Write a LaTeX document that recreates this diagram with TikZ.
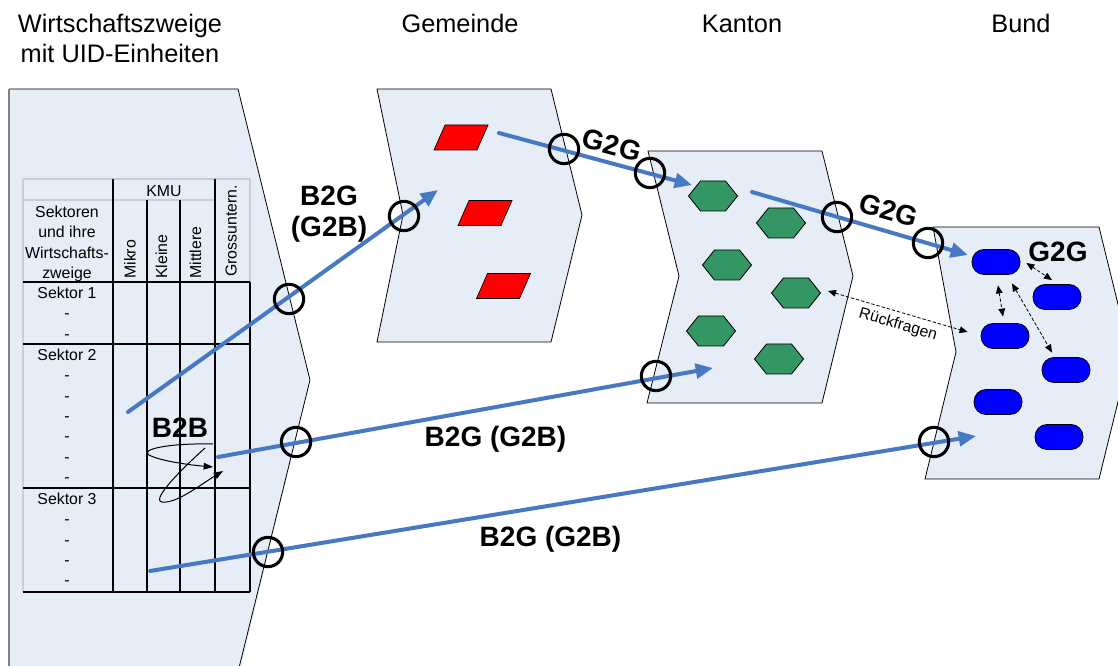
\documentclass[tikz,border=0pt]{standalone}
\usepackage{fontspec}
\setmainfont{Liberation Sans}
\usetikzlibrary{arrows.meta}
\definecolor{panel}{RGB}{230,237,247}
\definecolor{flow}{RGB}{70,120,195}
\definecolor{gridgray}{RGB}{200,206,216}
\definecolor{hexgreen}{RGB}{51,150,100}
\definecolor{redpara}{RGB}{255,0,0}
\definecolor{bundblue}{RGB}{0,0,255}
\tikzset{
  hexcell/.pic={\path[fill=hexgreen,draw=black,line width=0.6pt] (-24.5,0)--(-12.5,-15)--(12.5,-15)--(24.5,0)--(12.5,15)--(-12.5,15)--cycle;},
  paracell/.pic={\path[fill=redpara,draw=black,line width=0.5pt] (-16,-12.5)--(27,-12.5)--(16,12.5)--(-27,12.5)--cycle;}
}
\begin{document}
\begin{tikzpicture}[x=0.75pt,y=-0.75pt,
  panelshape/.style={fill=panel,draw=black,line width=0.6pt},
  flowarrow/.style={draw=flow,line width=3pt,line cap=round,-{Triangle[length=13pt,width=11pt]}},
  ring/.style={circle,draw=black,line width=2.3pt,minimum size=22pt,inner sep=0pt},
  title/.style={font=\fontsize{19}{22.5}\selectfont,align=center,inner sep=0pt},
  tabtext/.style={font=\fontsize{11.9}{15.3}\selectfont,align=center,inner sep=0pt},
  bigbold/.style={font=\fontsize{21}{23.5}\selectfont\bfseries,align=center,inner sep=0pt},
  smalltext/.style={font=\fontsize{11.8}{13}\selectfont,inner sep=0pt},
  thickrule/.style={line width=1.9pt},
  midrule/.style={line width=1.5pt},
  thinrule/.style={line width=0.9pt},
  grayrule/.style={draw=gridgray,line width=1.2pt},
  bundrect/.style={rectangle,rounded corners=9pt,fill=bundblue,draw=black,line width=0.6pt,minimum width=36pt,minimum height=18.75pt,inner sep=0pt},
  dasharrow/.style={dash pattern=on 2.5pt off 1.5pt,line width=0.6pt,{Triangle[length=6pt,width=5pt]}-{Triangle[length=6pt,width=5pt]}},
  loopline/.style={line width=0.75pt,-{Triangle[length=7pt,width=5pt]}}
]
\useasboundingbox (0,0) rectangle (1118,666);
\begin{scope}
\clip (0,0) rectangle (1118,666);

% ---------- panels ----------
\path[fill=panel] (9,89) -- (238,89) -- (310,380) -- (238,680) -- (9,680) -- cycle;
\draw[line width=0.6pt] (9,89) -- (238,89) -- (310,380) -- (236,680);
\draw[draw=gray,line width=1pt] (9,89) -- (9,680);

\path[panelshape] (377,89) -- (551,89) -- (582,215) -- (551,342) -- (377,342) -- (403,215) -- cycle;
\path[panelshape] (648,151) -- (822,151) -- (853,276) -- (822,403) -- (647,403) -- (679,276) -- cycle;
\path[panelshape] (933,227) -- (1099,227) -- (1130,353) -- (1099,479) -- (925,479) -- (956,352) -- cycle;

% ---------- titles ----------
\node[title] (t1) at (120,38.7) {Wirtschaftszweige\\mit UID-Einheiten};
\node[title] (t2) at (460,23.7) {Gemeinde};
\node[title] (t3) at (742,23.7) {Kanton};
\node[title] (t4) at (1021,23.7) {Bund};

% ---------- table ----------
\draw[grayrule] (23,179) -- (250,179);
\draw[grayrule] (23,200) -- (215,200);
\draw[grayrule] (23,179) -- (23,592);
\draw[grayrule] (250,179) -- (250,282);
\draw[thickrule] (23,282) -- (250,282);
\draw[midrule] (23,344) -- (250,344);
\draw[thinrule] (23,488) -- (250,488);
\draw[thickrule] (23,592) -- (250,592);
\draw[thickrule] (113,179) -- (113,592);
\draw[midrule] (147,200) -- (147,592);
\draw[midrule] (180,200) -- (180,592);
\draw[midrule] (215,179) -- (215,592);
\draw[thinrule] (250,282) -- (250,592);

\node[tabtext,anchor=base] (kmu) at (164,197) {KMU};
\node[tabtext,anchor=north] (sekt) at (67,205.5) {Sektoren\\und ihre\\Wirtschafts-\\zweige};
\node[tabtext,rotate=90,anchor=base west] (mikro) at (135.5,279) {Mikro};
\node[tabtext,rotate=90,anchor=base west] (kleine) at (167,279) {Kleine};
\node[tabtext,rotate=90,anchor=base west] (mittlere) at (201,279) {Mittlere};
\node[tabtext,rotate=90,anchor=base west] (gross) at (236.5,277) {Grossuntern.};
\node[tabtext,anchor=north] (s1) at (67,286.5) {Sektor 1\\-\\-};
\node[tabtext,anchor=north] (s2) at (67,348.5) {Sektor 2\\-\\-\\-\\-\\-\\-};
\node[tabtext,anchor=north] (s3) at (67,492.5) {Sektor 3\\-\\-\\-\\-};

% ---------- Gemeinde ----------
\pic at (461,137.5) {paracell};
\pic at (485,213) {paracell};
\pic at (503.5,286) {paracell};

% ---------- Kanton ----------
\coordinate (h1) at (713,196);
\coordinate (h2) at (781,223);
\coordinate (h3) at (727,265);
\coordinate (h4) at (796,293);
\coordinate (h5) at (711,331);
\coordinate (h6) at (779,359);
\foreach \h in {h1,h2,h3,h4,h5,h6} {\pic at (\h) {hexcell};}

% ---------- Bund ----------
\node[bundrect] (r1) at (996,262) {};
\node[bundrect] (r2) at (1057,297) {};
\node[bundrect] (r3) at (1005,336) {};
\node[bundrect] (r4) at (1066,370) {};
\node[bundrect] (r5) at (998,402) {};
\node[bundrect] (r6) at (1059,437) {};

\draw[dasharrow] ([shift={(6,1)}]r1.east) -- ([shift={(-5,-4)}]r2.north);
\draw[dasharrow] ([shift={(2,10.5)}]r1.south) -- ([shift={(-2,-6.5)}]r3.north);
\draw[dasharrow] ([shift={(16,8.5)}]r1.south) -- ([shift={(-14,-4.5)}]r4.north);
\draw[dasharrow] ([shift={(32,-2)}]h4) -- ([shift={(-13,-4)}]r3.west);
\node[smalltext,rotate=-16] (rf) at (898,325) {Rückfragen};

% ---------- B2B loops ----------
\coordinate (bbA) at (213,444);
\coordinate (bbAend) at (213,467);
\coordinate (bbB) at (205,448);
\coordinate (bbBend) at (223,471);
\draw[loopline] (bbA) .. controls (165,443) and (140,450) .. (149,455) .. controls (160,461) and (190,465) .. (bbAend);
\draw[loopline] (bbB) .. controls (185,466) and (150,500) .. (162,502) .. controls (176,504) and (200,485) .. (bbBend);
\node[bigbold] (b2b) at (180,428) {B2B};

% ---------- flow arrows ----------
\coordinate (a1s) at (128,412);
\coordinate (a1e) at (438,190);
\coordinate (a2s) at (499,133);
\coordinate (a2e) at (692,185);
\coordinate (a3s) at (752,192);
\coordinate (a3e) at (968,255);
\coordinate (a4s) at (218,457);
\coordinate (a4e) at (713,368);
\coordinate (a5s) at (150,571);
\coordinate (a5e) at (976,436);
\draw[flowarrow] (a1s) -- (a1e);
\draw[flowarrow] (a2s) -- (a2e);
\draw[flowarrow] (a3s) -- (a3e);
\draw[flowarrow] (a4s) -- (a4e);
\draw[flowarrow] (a5s) -- (a5e);

\node[ring] (c1) at (289,299) {};
\node[ring] (c2) at (404,216) {};
\node[ring] (c3) at (564,149) {};
\node[ring] (c4) at (650,173) {};
\node[ring] (c5) at (837,217) {};
\node[ring] (c6) at (928,243) {};
\node[ring] (c7) at (296,442) {};
\node[ring] (c8) at (656,376) {};
\node[ring] (c9) at (268,552) {};
\node[ring] (c10) at (934,442) {};

% ---------- flow labels ----------
\node[bigbold] (l1) at (329,214) {B2G\\(G2B)};
\node[bigbold,rotate=-15] (l2) at (612,145) {G2G};
\node[bigbold,rotate=-16] (l3) at (889,210) {G2G};
\node[bigbold] (l4) at (1058,252) {G2G};
\node[bigbold] (l5) at (495.5,439.5) {B2G (G2B)};
\node[bigbold] (l6) at (550.5,539.5) {B2G (G2B)};
\end{scope}
\end{tikzpicture}
\end{document}
